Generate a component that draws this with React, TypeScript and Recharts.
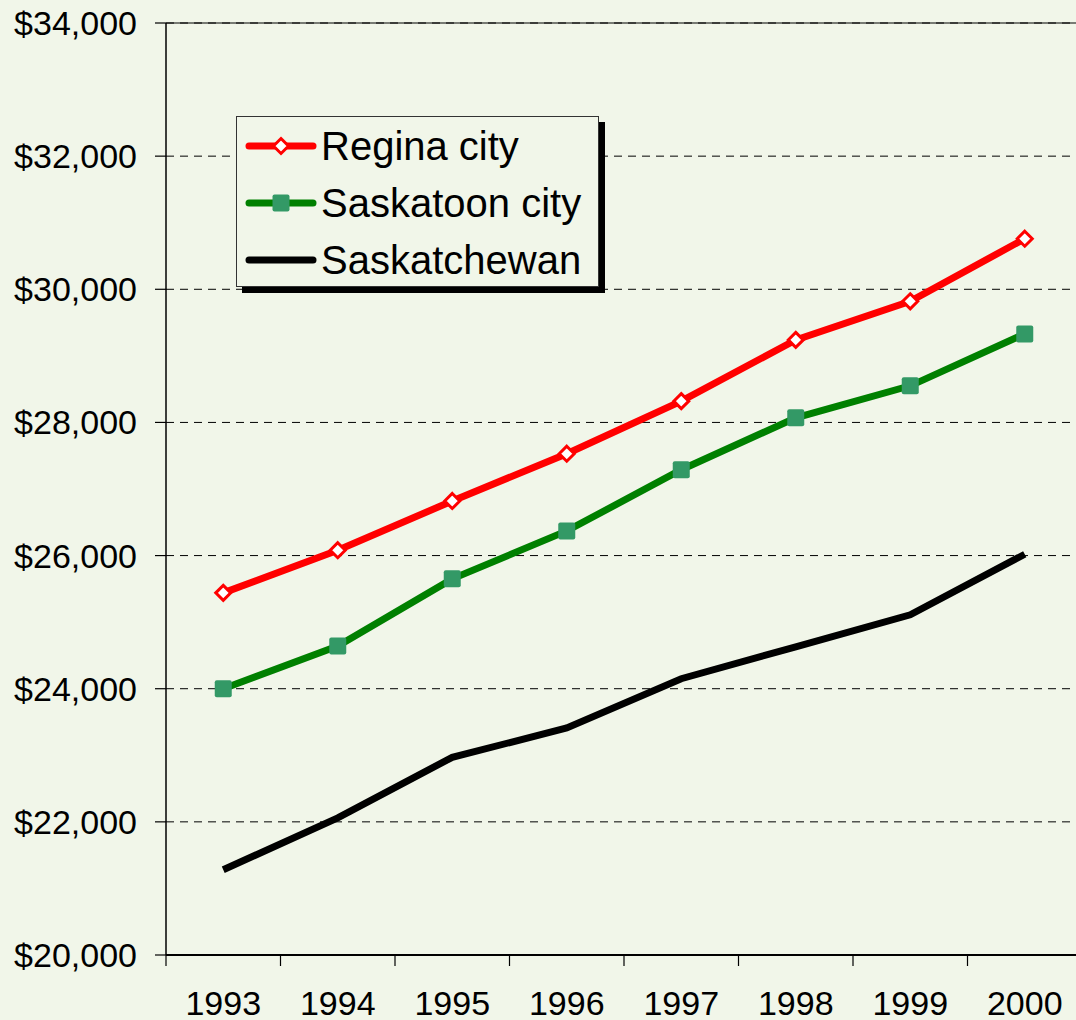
import { LineChart, Line, XAxis, YAxis, CartesianGrid, ReferenceLine, Legend } from "recharts";

const years = [1993, 1994, 1995, 1996, 1997, 1998, 1999, 2000];
const regina = [25440, 26080, 26820, 27530, 28320, 29240, 29820, 30760];
const saskatoon = [24000, 24640, 25650, 26370, 27290, 28070, 28550, 29330];
const saskatchewan = [21280, 22060, 22970, 23410, 24150, 24630, 25110, 26020];
const yTicks = [20000, 22000, 24000, 26000, 28000, 30000, 32000, 34000];

const data = years.map((year, i) => ({
  year,
  regina: regina[i],
  saskatoon: saskatoon[i],
  saskatchewan: saskatchewan[i],
}));

// labels sit on the years, tick marks sit between them
const xTicks = years.flatMap((y) => [y - 0.5, y]).concat(years[years.length - 1] + 0.5);

const BG = "#F1F6E9";
const FONT = '"Liberation Sans", Arial, sans-serif';

const fmtMoney = (v: number) => "$" + v.toLocaleString("en-US");

function YearTick(props: any) {
  const { x, y, payload } = props;
  const v = payload.value;
  if (Number.isInteger(v)) {
    return (
      <text x={x} y={y} dy="0.71em" textAnchor="middle" fontSize={34} fill="#000" fontFamily={FONT}>
        {v}
      </text>
    );
  }
  return <line x1={x} x2={x} y1={y - 36} y2={y - 25} stroke="#000" strokeWidth={1.2} />;
}

function DiamondDot(props: any) {
  const { cx, cy } = props;
  if (cx == null || cy == null) return null;
  const r = 7.5;
  return (
    <polygon
      points={`${cx},${cy - r} ${cx + r},${cy} ${cx},${cy + r} ${cx - r},${cy}`}
      fill="#fff"
      stroke="#FF0000"
      strokeWidth={3}
    />
  );
}

function SquareDot(props: any) {
  const { cx, cy } = props;
  if (cx == null || cy == null) return null;
  return <rect x={cx - 8.5} y={cy - 8.5} width={17} height={17} rx={2} fill="#339966" />;
}

const legendItems = [
  { name: "Regina city", color: "#FF0000", marker: "diamond" },
  { name: "Saskatoon city", color: "#008000", marker: "square" },
  { name: "Saskatchewan", color: "#000000", marker: "none" },
];

function ChartLegend() {
  return (
    <div
      style={{
        width: 361,
        height: 169,
        background: BG,
        border: "1px solid #333",
        boxShadow: "6px 6px 0 #000",
        fontFamily: FONT,
        fontSize: 40,
        color: "#000",
        boxSizing: "content-box",
      }}
    >
      {legendItems.map((it) => (
        <div key={it.name} style={{ display: "flex", alignItems: "center", height: 57 }}>
          <svg width={84} height={30} style={{ flex: "none" }}>
            <line x1={12} x2={76} y1={15} y2={15} stroke={it.color} strokeWidth={7} strokeLinecap="round" />
            {it.marker === "diamond" && (
              <polygon points="44,7.5 51.5,15 44,22.5 36.5,15" fill="#fff" stroke="#FF0000" strokeWidth={3} />
            )}
            {it.marker === "square" && <rect x={35.5} y={6.5} width={17} height={17} rx={2} fill="#339966" />}
          </svg>
          <span style={{ whiteSpace: "nowrap", lineHeight: 1 }}>{it.name}</span>
        </div>
      ))}
    </div>
  );
}

export default function App() {
  return (
    <div
      style={{
        position: "absolute",
        left: 0,
        top: 0,
        width: 1076,
        height: 1020,
        overflow: "hidden",
        background: BG,
      }}
    >
      <LineChart width={1082} height={1020} data={data} margin={{ top: 23, right: 0, left: 0, bottom: 0 }}>
        <CartesianGrid vertical={false} stroke="#000" strokeDasharray="8 6" strokeWidth={1} />
        <ReferenceLine y={34000} stroke="#000" strokeWidth={1.2} />
        <XAxis
          dataKey="year"
          type="number"
          domain={[years[0] - 0.5, years[years.length - 1] + 0.5]}
          ticks={xTicks}
          interval={0}
          tick={<YearTick />}
          tickLine={false}
          tickSize={0}
          tickMargin={36}
          height={65}
          axisLine={{ stroke: "#000", strokeWidth: 2 }}
        />
        <YAxis
          domain={[20000, 34000]}
          ticks={yTicks}
          width={166}
          tickSize={11}
          tickMargin={18}
          tickFormatter={fmtMoney}
          tick={{ fontSize: 34, fill: "#000", fontFamily: FONT }}
          tickLine={{ stroke: "#000", strokeWidth: 1.2 }}
          axisLine={{ stroke: "#000", strokeWidth: 1.5 }}
        />
        <Legend
          layout="horizontal"
          verticalAlign="middle"
          align="center"
          content={() => <ChartLegend />}
          wrapperStyle={{ position: "absolute", left: 236, top: 116, width: 370, height: 180 }}
        />
        <Line
          dataKey="saskatchewan"
          stroke="#000"
          strokeWidth={7}
          dot={false}
          isAnimationActive={false}
        />
        <Line
          dataKey="saskatoon"
          stroke="#008000"
          strokeWidth={7}
          dot={<SquareDot />}
          isAnimationActive={false}
        />
        <Line
          dataKey="regina"
          stroke="#FF0000"
          strokeWidth={7}
          dot={<DiamondDot />}
          isAnimationActive={false}
        />
      </LineChart>
    </div>
  );
}
